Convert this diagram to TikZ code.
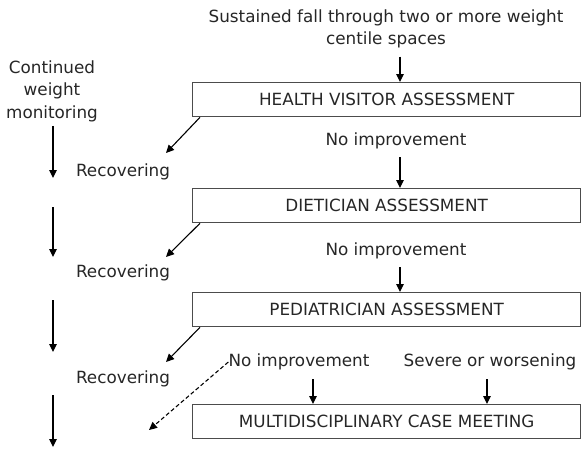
\documentclass[tikz,border=0pt]{standalone}
\usepackage{fontspec}
\setmainfont{DejaVu Sans}
\usetikzlibrary{arrows.meta,calc}
\begin{document}
\begin{tikzpicture}[x=1pt,y=-1pt,
  every node/.style={font=\fontsize{16.8}{22.5}\selectfont, inner sep=0pt, text=black!85},
  stagebox/.style={draw=black!70, line width=1.3pt, minimum width=388pt,
    minimum height=34pt, anchor=north west},
  flow/.style={-{Triangle[length=8pt,width=7.5pt]}, line width=1.1pt},
  dashflow/.style={flow, dash pattern=on 4pt off 2.5pt}]
\useasboundingbox (0,0) rectangle (581,448);

% assessment stages
\node[stagebox] (hv)   at (192,82)  {HEALTH VISITOR ASSESSMENT};
\node[stagebox] (diet) at (192,188) {DIETICIAN ASSESSMENT};
\node[stagebox] (ped)  at (192,292) {PEDIATRICIAN ASSESSMENT};
\node[stagebox] (mdt)  at (192,404) {MULTIDISCIPLINARY CASE MEETING};

% conditions
\node[align=center] (cause) at (386,29) {Sustained fall through two or more weight\\centile spaces};
\node (ni1) at (396,141) {No improvement};
\node (ni2) at (396,251) {No improvement};
\node (ni3) at (299,362) {No improvement};
\node (sev) at (490,362) {Severe or worsening};

% left column
\node[align=center] (mon) at (52,91) {Continued\\weight\\monitoring};
\node (rec1) at (123,172) {Recovering};
\node (rec2) at (123,273) {Recovering};
\node (rec3) at (123,379) {Recovering};

% main flow
\coordinate (ax) at (400,0);
\draw[flow, shorten <=8pt] (cause.south -| ax) -- (hv.north -| ax);
\draw[flow, shorten <=8pt] (ni1.south -| ax) -- (diet.north -| ax);
\draw[flow, shorten <=8pt] (ni2.south -| ax) -- (ped.north -| ax);
\coordinate (bx) at (313,0);
\coordinate (cx) at (487,0);
\draw[flow, shorten <=9pt] (ni3.south -| bx) -- (mdt.north -| bx);
\draw[flow, shorten <=9pt] (sev.south -| cx) -- (mdt.north -| cx);

% recovery branches
\coordinate (r1) at (166,153);
\coordinate (r2) at (166,257);
\coordinate (r3) at (166,362);
\coordinate (r4) at (149,430);
\draw[flow] ($(hv.south west)+(8,0)$) -- (r1);
\draw[flow] ($(diet.south west)+(8,0)$) -- (r2);
\draw[flow] ($(ped.south west)+(8,0)$) -- (r3);
\draw[dashflow] (ni3.west) -- (r4);

% continued monitoring
\coordinate (m1) at (53,178);
\coordinate (m2a) at (53,207);
\coordinate (m2b) at (53,257);
\coordinate (m3a) at (53,300);
\coordinate (m3b) at (53,352);
\coordinate (m4a) at (53,395);
\coordinate (m4b) at (53,447);
\draw[flow, shorten <=4pt] (mon.south -| m1) -- (m1);
\draw[flow] (m2a) -- (m2b);
\draw[flow] (m3a) -- (m3b);
\draw[flow] (m4a) -- (m4b);
\end{tikzpicture}
\end{document}
